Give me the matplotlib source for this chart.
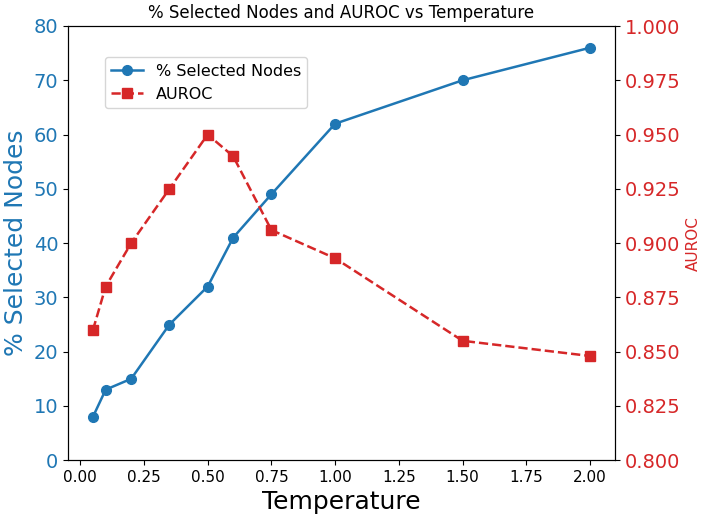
import matplotlib
matplotlib.use("Agg")
import matplotlib.pyplot as plt

temperature = [0.05, 0.1, 0.2, 0.35, 0.5, 0.6, 0.75, 1.0, 1.5, 2.0]
pct_selected = [8, 13, 15, 25, 32, 41, 49, 62, 70, 76]
auroc = [0.860, 0.880, 0.900, 0.925, 0.950, 0.940, 0.906, 0.893, 0.855, 0.848]

blue = "tab:blue"
red = "tab:red"

fig, ax1 = plt.subplots(figsize=(7.02, 5.2), dpi=100)
fig.subplots_adjust(left=0.097, right=0.876, top=0.95, bottom=0.115)

l1, = ax1.plot(temperature, pct_selected, "o-", color=blue, markersize=7,
               linewidth=1.8, label="% Selected Nodes")
ax1.set_xlabel("Temperature", fontsize=18)
ax1.set_ylabel("% Selected Nodes", fontsize=18, color=blue)
ax1.set_ylim(0, 80)
ax1.tick_params(axis="y", labelcolor=blue, labelsize=14)
ax1.tick_params(axis="x", labelsize=11)
ax1.set_xticks([0.0, 0.25, 0.5, 0.75, 1.0, 1.25, 1.5, 1.75, 2.0])

ax2 = ax1.twinx()
l2, = ax2.plot(temperature, auroc, "s--", color=red, markersize=7,
               linewidth=1.8, label="AUROC")
ax2.set_ylabel("AUROC", fontsize=11, color=red)
ax2.set_ylim(0.8, 1.0)
ax2.tick_params(axis="y", labelcolor=red, labelsize=14)
ax2.set_yticks([0.8, 0.825, 0.85, 0.875, 0.9, 0.925, 0.95, 0.975, 1.0])
ax2.set_yticklabels([f"{v:.3f}" for v in ax2.get_yticks()])

ax1.legend([l1, l2], [l1.get_label(), l2.get_label()], loc="upper left",
           bbox_to_anchor=(0.067, 0.928), borderaxespad=0, fontsize=11.5)
ax1.set_title("% Selected Nodes and AUROC vs Temperature", fontsize=12)

fig.savefig("out.png")
